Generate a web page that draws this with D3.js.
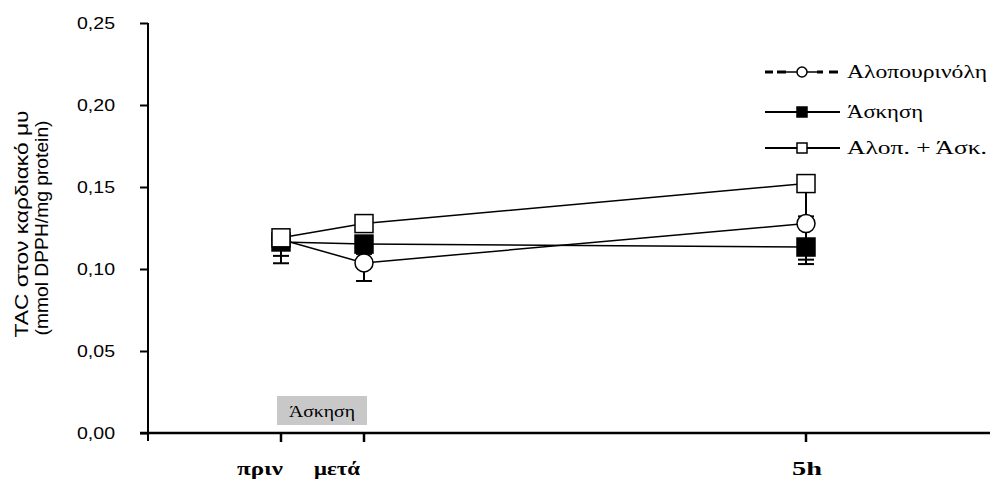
<!DOCTYPE html>
<html><head><meta charset="utf-8">
<script src="https://cdn.jsdelivr.net/npm/d3@7"></script>
<style>body{margin:0;background:#fff}svg{display:block}</style>
</head><body>
<script>
// ---- data ----
const timeLabels = ["πριν", "μετά", "5h"];
const timeHours = [-1, 0, 5];
const seriesNames = ["Αλοπουρινόλη", "Άσκηση", "Αλοπ. + Άσκ."];
const alloValues = [0.118, 0.1037, 0.1277];
const alloErrors = [0.010, 0.011, 0.022];
const exerValues = [0.1165, 0.1152, 0.1134];
const exerErrors = [0.013, 0.006, 0.0104];
const bothValues = [0.119, 0.1277, 0.1521];
const bothErrors = [0.004, 0.004, 0.020];
const yTicks = [0, 0.05, 0.10, 0.15, 0.20, 0.25];
const yLabel1 = "TAC στον καρδιακό μυ";
const yLabel2 = "(mmol DPPH/mg protein)";
const boxLabel = "Άσκηση";

const W = 990, H = 481;
const SANS = "Liberation Sans, Arial, sans-serif";
const SERIF = "Liberation Serif, Times New Roman, serif";
const svg = d3.select("body").append("svg").attr("width", W).attr("height", H);

const y = d3.scaleLinear().domain([0, 0.25]).range([433, 23]);
const x = d3.scaleLinear().domain([-1, 0, 5]).range([281, 364, 806]);
const fmt = v => d3.format(".2f")(v).replace(".", ",");

function txt(g, str, opt) {
  const t = g.append("text").attr("font-family", opt.family).attr("font-size", opt.size)
    .attr("font-weight", opt.weight || "normal").attr("text-anchor", opt.anchor || "start")
    .attr("fill", "#000").text(str);
  if (opt.rotate) {
    t.attr("transform", `translate(${opt.x},${opt.y}) rotate(${opt.rotate})`);
  } else {
    t.attr("x", opt.x).attr("y", opt.y);
  }
  if (opt.len) t.attr("textLength", opt.len).attr("lengthAdjust", "spacingAndGlyphs");
  return t;
}

// y axis
const yAxis = svg.append("g").attr("transform", "translate(148,0)")
  .call(d3.axisLeft(y).tickValues(yTicks).tickFormat("").tickSize(8));
yAxis.select(".domain").remove();
yAxis.selectAll(".tick line").attr("stroke", "#000").attr("stroke-width", 2);
yTicks.forEach(v => txt(svg, fmt(v), {family: SANS, size: 17, anchor: "end", x: 115, y: y(v) + 6, len: 38}));
svg.append("line").attr("x1", 148).attr("x2", 148).attr("y1", y(0.25)).attr("y2", y(0) + 8)
  .attr("stroke", "#000").attr("stroke-width", 2);

// x axis
svg.append("line").attr("x1", 140).attr("x2", W).attr("y1", y(0)).attr("y2", y(0))
  .attr("stroke", "#000").attr("stroke-width", 2.5);
const labelShift = [-21, -27, 1];
timeHours.forEach((t, i) => {
  svg.append("line").attr("x1", x(t)).attr("x2", x(t)).attr("y1", y(0)).attr("y2", y(0) + 9)
    .attr("stroke", "#000").attr("stroke-width", 2.5);
  txt(svg, timeLabels[i], {family: SERIF, size: 19, weight: "bold", anchor: "middle",
    x: x(t) + labelShift[i], y: 475, len: i === 2 ? 30 : 46});
});

// y label
const ymid = (y(0) + y(0.25)) / 2;
txt(svg, yLabel1, {family: SANS, size: 18, anchor: "middle", x: 28, y: ymid - 4, rotate: -90, len: 227});
txt(svg, yLabel2, {family: SANS, size: 18, anchor: "middle", x: 48, y: ymid, rotate: -90, len: 215});

// grey box
const bx0 = x(-1) - 4, bx1 = x(0) + 3;
svg.append("rect").attr("x", bx0).attr("y", 396).attr("width", bx1 - bx0).attr("height", 29)
  .attr("fill", "#c8c8c8");
txt(svg, boxLabel, {family: SERIF, size: 17, anchor: "middle", x: (bx0 + bx1) / 2, y: 417, len: 66});

// series
const series = [
  {name: seriesNames[0], vals: alloValues, errs: alloErrors, shape: "circle", fill: "#fff", dash: true, len: 140},
  {name: seriesNames[1], vals: exerValues, errs: exerErrors, shape: "square", fill: "#000", dash: false, len: 76},
  {name: seriesNames[2], vals: bothValues, errs: bothErrors, shape: "square", fill: "#fff", dash: false, len: 140}
];
const line = d3.line().x(d => x(d.t)).y(d => y(d.v));
const gErr = svg.append("g"), gLines = svg.append("g"), gMarks = svg.append("g");
series.forEach(s => {
  const pts = s.vals.map((v, i) => ({t: timeHours[i], v, e: s.errs[i]}));
  gLines.append("path").attr("d", line(pts)).attr("fill", "none").attr("stroke", "#000").attr("stroke-width", 1.5);
  pts.forEach(p => {
    gErr.append("line").attr("x1", x(p.t)).attr("x2", x(p.t)).attr("y1", y(p.v)).attr("y2", y(p.v - p.e))
      .attr("stroke", "#000").attr("stroke-width", 2);
    gErr.append("line").attr("x1", x(p.t) - 8).attr("x2", x(p.t) + 8).attr("y1", y(p.v - p.e)).attr("y2", y(p.v - p.e))
      .attr("stroke", "#000").attr("stroke-width", 2);
    if (s.shape === "circle") {
      gMarks.append("circle").attr("cx", x(p.t)).attr("cy", y(p.v)).attr("r", 9)
        .attr("fill", s.fill).attr("stroke", "#000").attr("stroke-width", 1.5);
    } else {
      gMarks.append("rect").attr("x", x(p.t) - 9).attr("y", y(p.v) - 9).attr("width", 18).attr("height", 18)
        .attr("fill", s.fill).attr("stroke", "#000").attr("stroke-width", 1.5);
    }
  });
});

// legend
const lg = svg.append("g");
const rowY = [72, 112, 148];
series.forEach((s, i) => {
  const ry = rowY[i];
  if (s.dash) {
    [[765, 773], [777, 786], [817, 823], [829, 838]].forEach(d =>
      lg.append("line").attr("x1", d[0]).attr("x2", d[1]).attr("y1", ry).attr("y2", ry)
        .attr("stroke", "#000").attr("stroke-width", 3));
    lg.append("line").attr("x1", 786).attr("x2", 817).attr("y1", ry).attr("y2", ry)
      .attr("stroke", "#000").attr("stroke-width", 1.5);
    lg.append("circle").attr("cx", 802).attr("cy", ry).attr("r", 5).attr("fill", "#fff")
      .attr("stroke", "#000").attr("stroke-width", 1.5);
  } else {
    lg.append("line").attr("x1", 765).attr("x2", 840).attr("y1", ry).attr("y2", ry)
      .attr("stroke", "#000").attr("stroke-width", 2);
    lg.append("rect").attr("x", 797).attr("y", ry - 5).attr("width", 10).attr("height", 10)
      .attr("fill", s.fill).attr("stroke", "#000").attr("stroke-width", 1.5);
  }
  txt(lg, s.name, {family: SERIF, size: 19, x: 847, y: ry + 6, len: s.len});
});
</script>
</body></html>
